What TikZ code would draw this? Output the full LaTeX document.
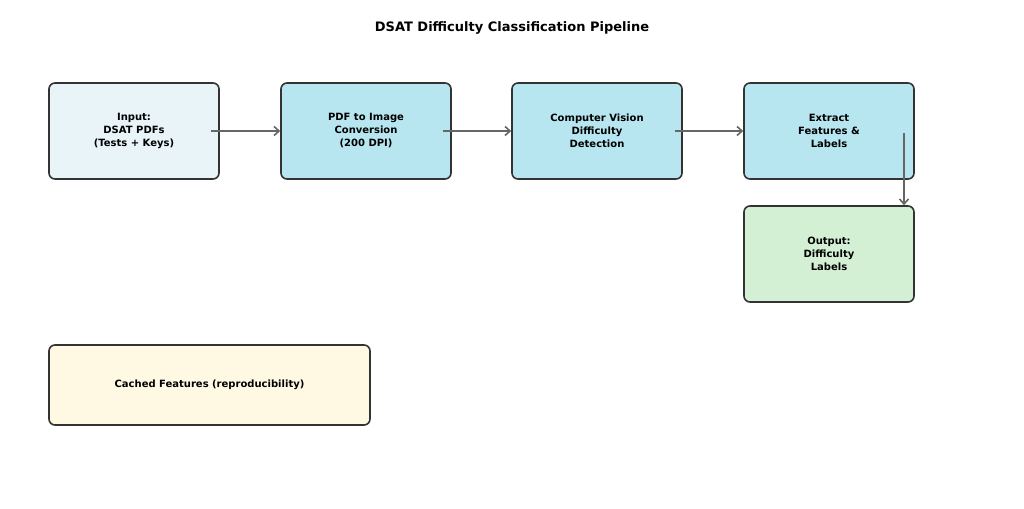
\documentclass[tikz,border=0pt]{standalone}
\usepackage{fontspec}
\setmainfont{DejaVu Sans}
\usetikzlibrary{arrows.meta}
\definecolor{bxA}{HTML}{E8F4F8}
\definecolor{bxB}{HTML}{B8E6F0}
\definecolor{bxG}{HTML}{D4F0D4}
\definecolor{bxY}{HTML}{FFF8E3}
\definecolor{edge}{HTML}{333333}
\definecolor{arr}{HTML}{666666}
\begin{document}
\begin{tikzpicture}[x=1pt,y=-1pt,
  box/.style={draw=edge,line width=1.6pt,rounded corners=6pt,align=center,
    font=\bfseries\fontsize{10}{13}\selectfont,inner sep=0pt},
  conn/.style={draw=arr,line width=1.6pt,-{Straight Barb[length=5pt,width=9pt]}}]
\useasboundingbox (0,0) rectangle (1024,508);
\fill[white] (0,0) rectangle (1024,508);
\node[font=\bfseries\fontsize{13}{15}\selectfont] (title) at (512,28) {DSAT Difficulty Classification Pipeline};
\node[box,fill=bxA,minimum width=170pt,minimum height=96pt] (in) at (134,131) {Input:\\DSAT PDFs\\(Tests + Keys)};
\node[box,fill=bxB,minimum width=170pt,minimum height=96pt] (pdf) at (366,131) {PDF to Image\\Conversion\\(200 DPI)};
\node[box,fill=bxB,minimum width=170pt,minimum height=96pt] (cv) at (597,131) {Computer Vision\\Difficulty\\Detection};
\node[box,fill=bxB,minimum width=170pt,minimum height=96pt] (ex) at (829,131) {Extract\\Features \&\\Labels};
\node[box,fill=bxG,minimum width=170pt,minimum height=96pt] (out) at (829,254) {Output:\\Difficulty\\Labels};
\node[box,fill=bxY,minimum width=321pt,minimum height=80pt] (cache) at (209.5,385) {Cached Features (reproducibility)};
\coordinate (a1) at (211,131);
\coordinate (a2) at (443,131);
\coordinate (a3) at (675,131);
\coordinate (a4) at (904,133);
\draw[conn] (a1) -- (pdf.west);
\draw[conn] (a2) -- (cv.west);
\draw[conn] (a3) -- (ex.west);
\draw[conn] (a4) -- (a4 |- out.north);
\end{tikzpicture}
\end{document}
